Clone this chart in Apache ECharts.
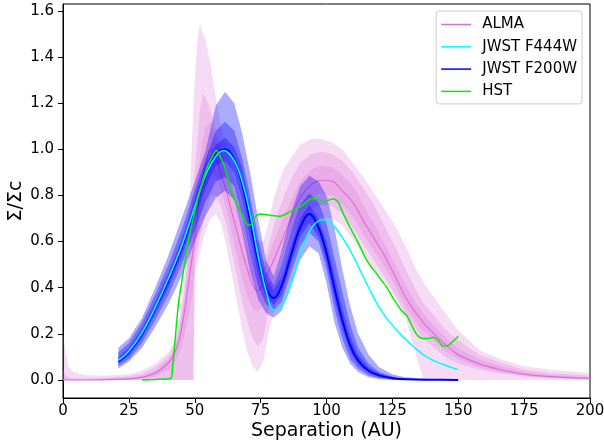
<!DOCTYPE html>
<html>
<head>
<meta charset="utf-8">
<script src="https://cdn.jsdelivr.net/npm/echarts@6/dist/echarts.min.js"></script>
<style>
html,body{margin:0;padding:0;background:#fff;}
#chart{width:604px;height:446px;}
</style>
</head>
<body>
<div id="chart"></div>
<script>
// ---------- tick labels ----------
const xTicks = [0, 25, 50, 75, 100, 125, 150, 175, 200];
const yTicks = [0, 0.2, 0.4, 0.6, 0.8, 1.0, 1.2, 1.4, 1.6];

// ---------- ALMA (median + three nested bands) ----------
const almaX = [0,1,2,4,8, 15,25,30,35,40, 42,44,46,48,49, 49.5,50,51,52,53, 54,56,58,60,62, 64,66,68,70,72, 74,76,78,80,82, 84,87,90,94,98, 102,106,110,114,118, 122,126,130,134,136, 137,140,145,150,158, 166,175,185,200];
const almaMed = [0,0,0,0,0, 0.001,0.005,0.012,0.03,0.075, 0.11,0.17,0.29,0.45,0.53, 0.575,0.62,0.71,0.80,0.87, 0.93,1.0,0.96,0.89,0.82, 0.73,0.645,0.555,0.48,0.41, 0.387,0.42,0.47,0.52,0.575, 0.63,0.715,0.79,0.845,0.866, 0.862,0.82,0.77,0.69,0.615, 0.54,0.45,0.36,0.29,0.26, 0.245,0.21,0.155,0.11,0.07, 0.045,0.025,0.015,0.007];
const almaLo1 = [0,0,0,0,0, 0,0,0,0,0, 0,0,0,0,0, 0, 0.45,0.5,0.55,0.6, 0.64,0.7,0.72,0.68,0.58, 0.46,0.34,0.22,0.12,0.06, 0.035,0.08,0.2,0.3,0.4, 0.5,0.59,0.65,0.69,0.71, 0.70,0.67,0.61,0.54,0.48, 0.43,0.36,0.27,0.11,0.03, 0,0,0,0,0, 0,0,0,0];
const almaHi1 = [0.21,0.12,0.06,0.035,0.022, 0.018,0.025,0.04,0.07,0.12, 0.16,0.25,0.42,0.75,1.05, 1.18,1.3,1.47,1.55,1.5, 1.48,1.37,1.22,1.1,1.0, 0.92,0.84,0.76,0.68,0.62, 0.6,0.6,0.68,0.79,0.86, 0.92,0.97,1.02,1.045,1.045, 1.03,1.0,0.94,0.88,0.81, 0.74,0.67,0.58,0.48,0.44, 0.42,0.37,0.29,0.215,0.13, 0.09,0.06,0.045,0.03];
const almaLo2 = [0,0,0,0,0, 0,0,0,0,0, 0,0,0,0,0, 0, 0.5,0.56,0.62,0.67, 0.72,0.8,0.8,0.75,0.67, 0.56,0.45,0.34,0.25,0.18, 0.145,0.18,0.3,0.4,0.47, 0.54,0.63,0.69,0.74,0.76, 0.755,0.72,0.66,0.59,0.52, 0.45,0.37,0.29,0.22,0.19, 0.18,0.15,0.1,0.07,0.045, 0.028,0.015,0.008,0.003];
const almaHi2 = [0.05,0.02,0.012,0.008,0.007, 0.009,0.016,0.027,0.055,0.105, 0.14,0.23,0.38,0.6,0.74, 0.82,0.9,1.04,1.17,1.24, 1.23,1.17,1.08,1.0,0.93, 0.85,0.77,0.69,0.61,0.53, 0.49,0.5,0.58,0.67,0.74, 0.8,0.88,0.94,0.98,0.99, 0.98,0.95,0.9,0.83,0.76, 0.67,0.58,0.48,0.39,0.35, 0.33,0.29,0.22,0.17,0.11, 0.075,0.045,0.03,0.018];
const almaLo3 = [0,0,0,0,0, 0,0.002,0.005,0.015,0.045, 0.07,0.11,0.19,0.3,0.36, 0.4, 0.55,0.62,0.7,0.76, 0.82,0.9,0.88,0.82,0.74, 0.64,0.54,0.44,0.36,0.31, 0.295,0.32,0.38,0.45,0.52, 0.58,0.67,0.73,0.79,0.81, 0.8,0.76,0.71,0.63,0.56, 0.49,0.41,0.32,0.25,0.22, 0.21,0.18,0.125,0.09,0.055, 0.035,0.02,0.011,0.005];
const almaHi3 = [0.01,0.005,0.004,0.003,0.003, 0.005,0.01,0.018,0.04,0.09, 0.125,0.2,0.34,0.53,0.64, 0.7,0.76,0.86,0.96,1.04, 1.09,1.12,1.04,0.96,0.89, 0.81,0.73,0.65,0.57,0.49, 0.45,0.47,0.54,0.6,0.66, 0.71,0.79,0.86,0.91,0.93, 0.925,0.89,0.84,0.76,0.68, 0.59,0.5,0.41,0.33,0.3, 0.285,0.245,0.185,0.135,0.09, 0.06,0.035,0.022,0.012];

// ---------- JWST F200W (line + three nested bands) ----------
const f200X = [21,25,30,35,40, 45,50,54,58,61.5, 65,68,71,74,77, 80,83,87,90,93.5, 97,100,103,106,109, 112,116,120,125,130, 140,150];
const f200Y = [0.08,0.12,0.2,0.31,0.43, 0.57,0.74,0.88,0.975,1.0, 0.955,0.85,0.69,0.52,0.4, 0.355,0.41,0.56,0.66,0.72, 0.66,0.55,0.40,0.26,0.15, 0.085,0.04,0.02,0.008,0.003, 0.001,0.0];
const f200Lo1 = [0.05,0.08,0.14,0.23,0.33, 0.45,0.6,0.71,0.79,0.82, 0.78,0.64,0.47,0.35,0.29, 0.27,0.3,0.42,0.52,0.58, 0.55,0.42,0.25,0.14,0.07, 0.035,0.012,0.004,0,0, 0,0];
const f200Hi1 = [0.14,0.18,0.27,0.40,0.54, 0.70,0.86,0.99,1.19,1.25, 1.2,1.07,0.9,0.7,0.52, 0.45,0.56,0.74,0.84,0.885, 0.86,0.8,0.66,0.48,0.32, 0.2,0.11,0.055,0.025,0.012, 0.004,0.002];
const f200Lo2 = [0.06,0.09,0.16,0.26,0.37, 0.5,0.65,0.77,0.86,0.88, 0.84,0.71,0.55,0.41,0.33, 0.3,0.34,0.48,0.58,0.64, 0.6,0.48,0.31,0.18,0.09, 0.05,0.02,0.008,0.002,0.001, 0,0];
const f200Hi2 = [0.12,0.16,0.25,0.37,0.5, 0.65,0.82,0.95,1.08,1.12, 1.08,0.96,0.8,0.62,0.47, 0.41,0.5,0.66,0.76,0.81, 0.77,0.68,0.53,0.38,0.24, 0.14,0.07,0.035,0.015,0.006, 0.002,0.001];
const f200Lo3 = [0.07,0.105,0.18,0.285,0.4, 0.535,0.7,0.83,0.93,0.95, 0.9,0.78,0.62,0.46,0.36, 0.325,0.37,0.52,0.62,0.68, 0.62,0.51,0.35,0.22,0.12, 0.065,0.03,0.013,0.005,0.002, 0,0];
const f200Hi3 = [0.10,0.14,0.225,0.34,0.465, 0.61,0.785,0.93,1.02,1.05, 1.01,0.92,0.76,0.58,0.44, 0.39,0.45,0.6,0.7,0.76, 0.7,0.6,0.46,0.31,0.19, 0.11,0.055,0.028,0.012,0.005, 0.002,0.0005];

// ---------- JWST F444W ----------
const f444X = [21,25,30,35,40, 45,50,54,58,61, 65,68,71,74,77, 80,83,87,91,95, 99,103,107,110,113, 116,119,123,128,133, 138,144,150];
const f444Y = [0.085,0.125,0.205,0.315,0.44, 0.58,0.75,0.885,0.97,0.995, 0.95,0.86,0.72,0.54,0.39, 0.305,0.32,0.43,0.58,0.67, 0.695,0.665,0.6,0.54,0.47, 0.4,0.335,0.265,0.2,0.145, 0.10,0.068,0.045];

// ---------- HST ----------
const hstX = [30,35,38,41,41.5, 42.5,43.8,45,47.6,50, 52,54,55.8,58.2,60, 61.5,63.4,64.6,67.2,69.7, 71,72.9,74.8,78.6,82.4, 86.2,90,92.5,94,96.3, 98.8,101,102.6,104.5,106.4, 109,111.5,113.5,115.2,117, 119,121,122.8,125,126.6, 128.5,130.4,132,133.6,135, 136.5,138.5,140.5,142.5,144.3, 146.2,148,150];
const hstY = [0.0,0.002,0.004,0.008,0.045, 0.17,0.33,0.42,0.606,0.73, 0.82,0.9,0.95,0.996,0.96, 0.92,0.837,0.794,0.736,0.678, 0.671,0.707,0.72,0.714,0.71, 0.73,0.75,0.772,0.786,0.786, 0.772,0.78,0.786,0.77,0.72, 0.66,0.606,0.56,0.52,0.49, 0.462,0.43,0.404,0.36,0.332, 0.30,0.281,0.245,0.209,0.188, 0.18,0.18,0.185,0.17,0.147, 0.15,0.168,0.19];

// ---------- helpers ----------
function zip(xs, ys) { return xs.map((x, i) => [x, ys[i]]); }
function band(xs, lo, hi, color, z) {
  return {
    type: 'custom', silent: true, z: z, clip: true,
    data: [[xs[0], lo[0]]],
    renderItem: function (params, api) {
      const pts = [];
      for (let i = 0; i < xs.length; i++) pts.push(api.coord([xs[i], hi[i]]));
      for (let i = xs.length - 1; i >= 0; i--) pts.push(api.coord([xs[i], lo[i]]));
      return { type: 'polygon', shape: { points: pts }, style: { fill: color } };
    }
  };
}
function line(name, xs, ys, color, width, z, smooth) {
  return {
    type: 'line', name: name, data: zip(xs, ys), z: z,
    symbol: 'none', showSymbol: false, smooth: smooth,
    lineStyle: { color: color, width: width },
    itemStyle: { color: color },
    emphasis: { disabled: true }
  };
}

const FONT = 'DejaVu Sans';
const pink = 'rgba(218,112,214,0.25)';
const blueBand = 'rgba(0,0,255,0.33)';

const chart = echarts.init(document.getElementById('chart'), null, { renderer: 'canvas' });
chart.setOption({
  animation: false,
  backgroundColor: '#fff',
  grid: { left: 63, right: 14, top: 4, bottom: 48, containLabel: false, outerBoundsMode: 'none',
    show: true, borderColor: '#000', borderWidth: 1, backgroundColor: 'transparent' },
  legend: {
    orient: 'vertical', right: 22, top: 11,
    data: ['ALMA', 'JWST F444W', 'JWST F200W', 'HST'],
    icon: 'rect', itemWidth: 30, itemHeight: 1.5, itemGap: 7.3,
    padding: [6, 5, 5, 5],
    borderColor: '#ccc', borderWidth: 1, borderRadius: 3,
    backgroundColor: 'rgba(255,255,255,0.8)',
    textStyle: { fontFamily: FONT, fontSize: 15, lineHeight: 14, color: '#000', padding: [0, 0, 0, 6] }
  },
  xAxis: {
    type: 'value', min: 0, max: 200, interval: 25,
    name: 'Separation (AU)', nameLocation: 'middle', nameGap: 24, nameMoveOverlap: false,
    nameTextStyle: { fontFamily: FONT, fontSize: 19, color: '#000' },
    axisLine: { show: true, onZero: false, lineStyle: { color: '#000', width: 1 } },
    axisTick: { show: true, length: 5, lineStyle: { color: '#000' } },
    axisLabel: { fontFamily: FONT, fontSize: 15, color: '#000', margin: 6, customValues: xTicks },
    splitLine: { show: false }
  },
  yAxis: {
    type: 'value', min: -0.078, max: 1.63,
    name: 'Σ/Σc', nameLocation: 'middle', nameGap: 37, nameRotate: 90, nameMoveOverlap: false,
    nameTextStyle: { fontFamily: FONT, fontSize: 19, color: '#000' },
    axisLine: { show: true, onZero: false, lineStyle: { color: '#000', width: 1 } },
    axisTick: { show: true, length: 5, lineStyle: { color: '#000' }, customValues: yTicks },
    axisLabel: { fontFamily: FONT, fontSize: 15, color: '#000', margin: 9, customValues: yTicks,
      formatter: function (v) { return Number(v).toFixed(1); } },
    splitLine: { show: false }
  },
  series: [
    band(almaX, almaLo1, almaHi1, pink, 1),
    band(almaX, almaLo2, almaHi2, pink, 1.1),
    band(almaX, almaLo3, almaHi3, pink, 1.2),
    line('ALMA', almaX, almaMed, '#DA70D6', 1.2, 1.3, 0.4),
    band(f200X, f200Lo1, f200Hi1, blueBand, 1.4),
    band(f200X, f200Lo2, f200Hi2, blueBand, 1.5),
    band(f200X, f200Lo3, f200Hi3, blueBand, 1.6),
    line('JWST F200W', f200X, f200Y, '#0000FF', 2, 1.7, 0.4),
    line('JWST F444W', f444X, f444Y, '#00FFFF', 1.5, 1.8, 0.4),
    line('HST', hstX, hstY, '#00EE00', 1.5, 1.9, 0.25)
  ]
});
</script>
</body>
</html>
